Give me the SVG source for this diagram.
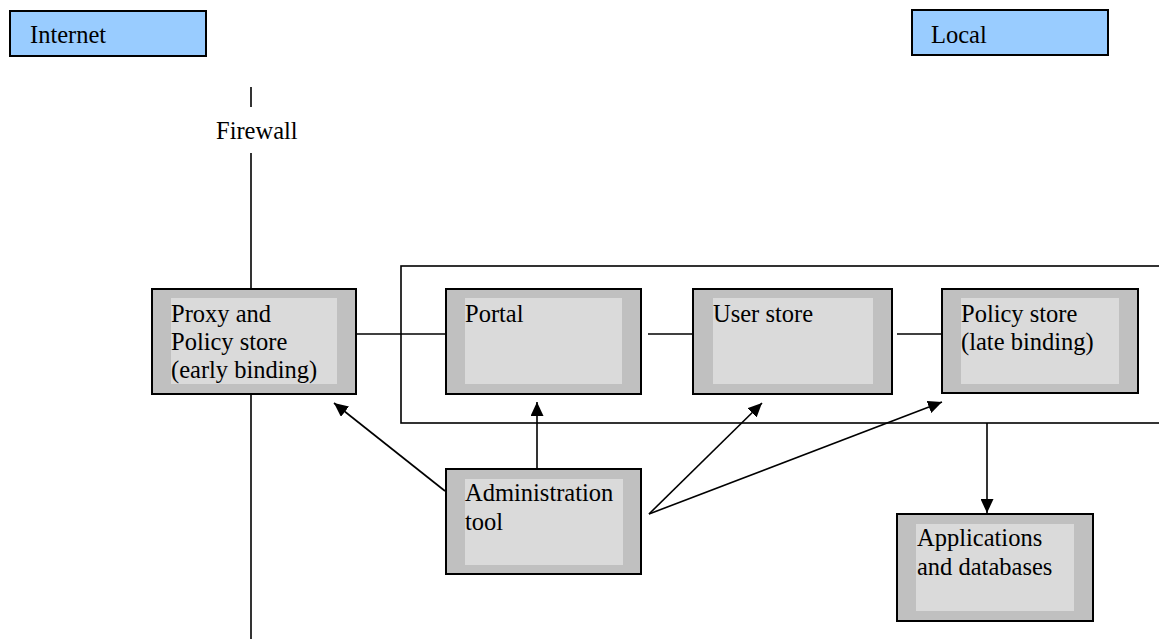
<svg xmlns="http://www.w3.org/2000/svg" width="1159" height="639" viewBox="0 0 1159 639">
<defs>
<style>
text{font-family:"Liberation Serif","Times New Roman",serif;font-size:24.5px;fill:#000}
.lbl{fill:#99ccff;stroke:#000;stroke-width:2}
.outer{fill:#c0c0c0;stroke:#000;stroke-width:2}
.inner{fill:#dadada}
.ln{stroke:#000;stroke-width:1.6;fill:none}
</style>
<marker id="ah" viewBox="0 0 14 13" refX="14" refY="6.5" markerWidth="14" markerHeight="13" markerUnits="userSpaceOnUse" orient="auto">
<path d="M0,0 L14,6.5 L0,13 Z" fill="#000"/>
</marker>
</defs>
<rect width="1159" height="639" fill="#fff"/>
<g id="internet"><rect class="lbl" x="10" y="11" width="196" height="45"/><text x="30" y="43">Internet</text></g>
<g id="local"><rect class="lbl" x="912" y="10" width="196" height="45"/><text x="931" y="43">Local</text></g>
<g id="firewall"><line class="ln" x1="251" y1="87" x2="251" y2="107"/><text x="216" y="139">Firewall</text><line class="ln" x1="251" y1="153" x2="251" y2="289"/><line class="ln" x1="251" y1="394" x2="251" y2="639"/></g>
<g id="container"><rect x="401" y="266" width="780" height="157" fill="none" stroke="#000" stroke-width="1.6"/></g>
<g id="connectors">
<line class="ln" x1="356" y1="334" x2="446" y2="334"/>
<line class="ln" x1="648" y1="334" x2="693" y2="334"/>
<line class="ln" x1="897" y1="334" x2="942" y2="334"/>
<line class="ln" x1="537" y1="469" x2="537" y2="402" marker-end="url(#ah)"/>
<line class="ln" x1="445" y1="491" x2="334" y2="403" marker-end="url(#ah)"/>
<line class="ln" x1="649" y1="514" x2="762" y2="403" marker-end="url(#ah)"/>
<line class="ln" x1="649" y1="514" x2="942" y2="402" marker-end="url(#ah)"/>
<line class="ln" x1="987" y1="423" x2="987" y2="513" marker-end="url(#ah)"/>
</g>
<g id="proxy"><rect class="outer" x="152" y="289" width="204" height="105"/><rect class="inner" x="171" y="298" width="166" height="86"/><text x="171" y="322">Proxy and</text><text x="171" y="350">Policy store</text><text x="171" y="378">(early binding)</text></g>
<g id="portal"><rect class="outer" x="446" y="289" width="195" height="105"/><rect class="inner" x="465" y="298" width="157" height="86"/><text x="465" y="322">Portal</text></g>
<g id="userstore"><rect class="outer" x="693" y="289" width="199" height="105"/><rect class="inner" x="713" y="298" width="160" height="86"/><text x="713" y="322">User store</text></g>
<g id="policystore"><rect class="outer" x="942" y="289" width="196" height="104"/><rect class="inner" x="961" y="298" width="158" height="86"/><text x="961" y="322">Policy store</text><text x="961" y="350">(late binding)</text></g>
<g id="admin"><rect class="outer" x="446" y="469" width="195" height="105"/><rect class="inner" x="465" y="479" width="158" height="86"/><text x="465" y="501">Administration</text><text x="465" y="530">tool</text></g>
<g id="apps"><rect class="outer" x="897" y="514" width="196" height="107"/><rect class="inner" x="916" y="524" width="158" height="87"/><text x="917" y="546">Applications</text><text x="917" y="575">and databases</text></g>
</svg>
